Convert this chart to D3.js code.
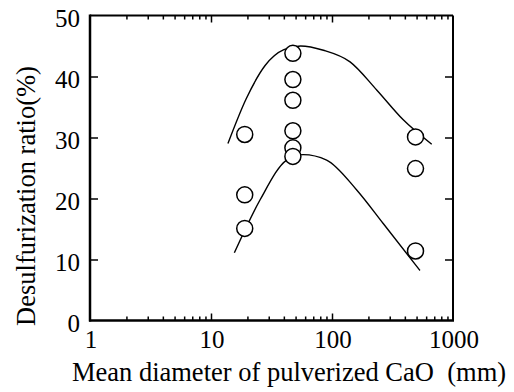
<!DOCTYPE html>
<html>
<head>
<meta charset="utf-8">
<script src="https://cdn.jsdelivr.net/npm/d3@7"></script>
<style>
  html, body { margin: 0; padding: 0; background: #fff; }
  svg { display: block; }
</style>
</head>
<body>
<svg id="chart" width="514" height="392"></svg>
<script>
// ---- data ----
const xTickLabels = [1, 10, 100, 1000];
const yTickLabels = [0, 10, 20, 30, 40, 50];
const xMinorTicks = [2,3,4,5,6,7,8,9,20,30,40,50,60,70,80,90,200,300,400,500,600,700,800,900];
const xMajorTicks = [10, 100];
const yInnerTicks = [10, 20, 30, 40];

// measured points (diameter mm, ratio %)
const pointsX = [19, 19, 19, 47.5, 47.5, 47.5, 47.5, 47.5, 47.5, 490, 490, 490];
const pointsY = [30.5, 20.6, 15.1, 43.8, 39.5, 36.1, 31.1, 28.3, 26.9, 30.1, 24.9, 11.4];

// upper trend curve
const upperX = [13.8, 19.5, 28, 40, 55, 85, 141, 234, 388, 667];
const upperY = [29.0, 36.3, 41.8, 44.4, 45.0, 44.3, 42.4, 37.8, 32.9, 28.9];
// lower trend curve
const lowerX = [15.6, 25.4, 42.2, 57.9, 90.3, 160, 265, 533];
const lowerY = [11.1, 19.75, 26.3, 27.2, 26.3, 21.4, 15.9, 8.2];

const xTitle = "Mean diameter of pulverized CaO\u00a0\u00a0(mm)";
const yTitle = "Desulfurization ratio(%)";

// ---- chart ----
const FONT = "Liberation Serif";
const svg = d3.select("#chart");
const pLeft = 90, pRight = 453, pTop = 15.5, pBottom = 320.5;
const x = d3.scaleLog().domain([1, 1000]).range([pLeft, pRight]);
const y = d3.scaleLinear().domain([0, 50]).range([pBottom, pTop]);

// curves
const line = d3.line().x(d => x(d[0])).y(d => y(d[1])).curve(d3.curveMonotoneX);
svg.append("path").datum(d3.zip(upperX, upperY)).attr("d", line)
  .attr("fill", "none").attr("stroke", "#000").attr("stroke-width", 1.4);
svg.append("path").datum(d3.zip(lowerX, lowerY)).attr("d", line)
  .attr("fill", "none").attr("stroke", "#000").attr("stroke-width", 1.4);

// circles
svg.append("g").selectAll("circle").data(d3.zip(pointsX, pointsY)).join("circle")
  .attr("cx", d => x(d[0])).attr("cy", d => y(d[1])).attr("r", 8)
  .attr("fill", "#fff").attr("stroke", "#000").attr("stroke-width", 1.5);

// axes ticks (inward)
function styleAxis(g) {
  g.select(".domain").remove();
  g.selectAll("line").attr("stroke", "#000").attr("stroke-width", 1.5);
  g.selectAll("text").remove();
}
svg.append("g").attr("transform", `translate(0,${pBottom})`)
  .call(d3.axisBottom(x).tickValues(xMinorTicks).tickSize(-4).tickFormat("")).call(styleAxis);
svg.append("g").attr("transform", `translate(0,${pBottom})`)
  .call(d3.axisBottom(x).tickValues(xMajorTicks).tickSize(-7).tickFormat("")).call(styleAxis);
svg.append("g").attr("transform", `translate(0,${pTop})`)
  .call(d3.axisTop(x).tickValues(xMinorTicks).tickSize(-4).tickFormat("")).call(styleAxis);
svg.append("g").attr("transform", `translate(0,${pTop})`)
  .call(d3.axisTop(x).tickValues(xMajorTicks).tickSize(-7).tickFormat("")).call(styleAxis);
svg.append("g").attr("transform", `translate(${pLeft},0)`)
  .call(d3.axisLeft(y).tickValues(yInnerTicks).tickSize(-8).tickFormat("")).call(styleAxis);
svg.append("g").attr("transform", `translate(${pRight},0)`)
  .call(d3.axisRight(y).tickValues(yInnerTicks).tickSize(-8).tickFormat("")).call(styleAxis);

// frame
svg.append("line").attr("x1", pLeft).attr("x2", pRight).attr("y1", pTop).attr("y2", pTop)
  .attr("stroke", "#000").attr("stroke-width", 2);
svg.append("line").attr("x1", pRight).attr("x2", pRight).attr("y1", pTop).attr("y2", pBottom)
  .attr("stroke", "#000").attr("stroke-width", 2);
svg.append("line").attr("x1", pLeft).attr("x2", pLeft).attr("y1", pTop - 1).attr("y2", pBottom + 1)
  .attr("stroke", "#000").attr("stroke-width", 2.5);
svg.append("line").attr("x1", pLeft - 1).attr("x2", pRight + 1).attr("y1", pBottom).attr("y2", pBottom)
  .attr("stroke", "#000").attr("stroke-width", 2.5);

// tick labels
svg.append("g").selectAll("text").data(yTickLabels).join("text")
  .attr("x", pLeft - 10).attr("y", d => y(d) + 11)
  .attr("text-anchor", "end").style("font-family", FONT).style("font-size", "25px").text(d => d);
svg.append("g").selectAll("text").data(xTickLabels).join("text")
  .attr("x", d => x(d) + 1).attr("y", 348)
  .attr("text-anchor", "middle").style("font-family", FONT).style("font-size", "25px").text(d => d);

// titles
svg.append("text").attr("x", 289).attr("y", 381).attr("text-anchor", "middle")
  .style("font-family", FONT).style("font-size", "26.5px").text(xTitle);
svg.append("text").attr("transform", "translate(35,196) rotate(-90)")
  .attr("text-anchor", "middle").style("font-family", FONT).style("font-size", "26.5px").text(yTitle);
</script>
</body>
</html>
